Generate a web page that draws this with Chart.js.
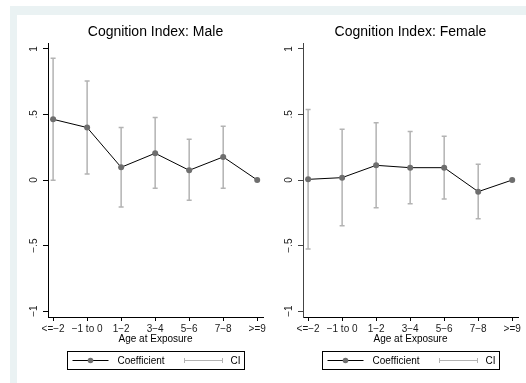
<!DOCTYPE html>
<html><head><meta charset="utf-8">
<script src="https://cdn.jsdelivr.net/npm/chart.js@4/dist/chart.umd.min.js"></script>
<style>
html,body{margin:0;padding:0;background:#fff;width:526px;height:383px;overflow:hidden;}
#band{position:absolute;left:10px;top:6px;width:516px;height:377px;background:#eaf2f3;}
#inner{position:absolute;left:17px;top:15px;width:509px;height:368px;background:#fff;}
#cL{position:absolute;left:0;top:0;width:270px;height:383px;}
#cR{position:absolute;left:265px;top:0;width:261px;height:383px;}
</style></head><body>
<div id="band"></div><div id="inner"></div>
<canvas id="cL" width="270" height="383"></canvas>
<canvas id="cR" width="261" height="383"></canvas>
<script>
const categories = ["<=\u22122", "\u22121 to 0", "1\u22122", "3\u22124", "5\u22126", "7\u22128", ">=9"];
const yTickValues = [-1, -0.5, 0, 0.5, 1];
const yTickLabels = ["\u22121", "\u2212.5", "0", ".5", "1"];

const maleCoef = [0.463, 0.400, 0.097, 0.204, 0.074, 0.176, 0];
const maleLow  = [-0.002, 0.046, -0.206, -0.062, -0.155, -0.062, null];
const maleHigh = [0.929, 0.756, 0.400, 0.476, 0.310, 0.410, null];

const femaleCoef = [0.005, 0.018, 0.112, 0.094, 0.094, -0.089, 0];
const femaleLow  = [-0.527, -0.349, -0.211, -0.181, -0.145, -0.295, null];
const femaleHigh = [0.537, 0.387, 0.437, 0.369, 0.333, 0.120, null];

const FONT = '"Liberation Sans", Arial, Helvetica, sans-serif';
const CI_COLOR = '#b3b3b3';
const MARK_COLOR = '#6e6e6e';

function makeChart(id, title, coef, low, high, yW, padR, yAxisColor) {
  const extras = {
    id: 'extras',
    beforeDatasetsDraw(chart) {
      const {ctx, scales: {x, y}} = chart;
      ctx.save();
      ctx.strokeStyle = CI_COLOR;
      ctx.lineWidth = 1.5;
      for (let i = 0; i < coef.length; i++) {
        if (low[i] == null || high[i] == null) continue;
        const px = x.getPixelForValue(i);
        const y1 = y.getPixelForValue(low[i]);
        const y2 = y.getPixelForValue(high[i]);
        ctx.beginPath();
        ctx.moveTo(px, y1); ctx.lineTo(px, y2);
        ctx.moveTo(px - 2.5, y1); ctx.lineTo(px + 2.5, y1);
        ctx.moveTo(px - 2.5, y2); ctx.lineTo(px + 2.5, y2);
        ctx.stroke();
      }
      ctx.restore();
    },
    afterDraw(chart) {
      const {ctx, chartArea: ca, scales: {y}} = chart;
      const cx = (ca.left + ca.right) / 2;
      ctx.save();
      ctx.fillStyle = '#000';
      // title
      ctx.font = '14px ' + FONT;
      ctx.textAlign = 'center';
      ctx.textBaseline = 'middle';
      ctx.fillText(title, cx, 32);
      // y tick labels rotated
      ctx.font = '10px ' + FONT;
      ctx.fillStyle = '#1a1a1a';
      yTickValues.forEach((v, i) => {
        const py = y.getPixelForValue(v);
        ctx.save();
        ctx.translate(ca.left - 13.5, py);
        ctx.rotate(-Math.PI / 2);
        ctx.textAlign = 'center';
        ctx.textBaseline = 'middle';
        ctx.fillText(yTickLabels[i], 0, 0);
        ctx.restore();
      });
      // x axis title
      ctx.fillStyle = '#000';
      ctx.font = '10px ' + FONT;
      ctx.fillText('Age at Exposure', cx, 339.5);
      // legend
      const bw = 177, bh = 18;
      const bx = Math.round(cx - bw / 2) + 0.5, by = 351.5;
      ctx.strokeStyle = '#000';
      ctx.lineWidth = 1;
      ctx.strokeRect(bx, by, bw, bh);
      const ly = by + bh / 2;
      ctx.beginPath();
      ctx.moveTo(bx + 5, ly); ctx.lineTo(bx + 41, ly);
      ctx.stroke();
      ctx.fillStyle = MARK_COLOR;
      ctx.beginPath();
      ctx.arc(bx + 23, ly, 2.8, 0, Math.PI * 2);
      ctx.fill();
      ctx.strokeStyle = CI_COLOR;
      ctx.beginPath();
      ctx.moveTo(bx + 117, ly); ctx.lineTo(bx + 155, ly);
      ctx.moveTo(bx + 117, ly - 2.5); ctx.lineTo(bx + 117, ly + 2.5);
      ctx.moveTo(bx + 155, ly - 2.5); ctx.lineTo(bx + 155, ly + 2.5);
      ctx.stroke();
      ctx.fillStyle = '#000';
      ctx.font = '10px ' + FONT;
      ctx.textAlign = 'left';
      ctx.fillText('Coefficient', bx + 50, ly + 0.5);
      ctx.fillText('CI', bx + 163, ly + 0.5);
      ctx.restore();
    }
  };
  return new Chart(document.getElementById(id), {
    type: 'line',
    data: {
      datasets: [{
        label: 'Coefficient',
        data: coef.map((v, i) => ({x: i, y: v})),
        borderColor: '#000',
        borderWidth: 1,
        pointBackgroundColor: MARK_COLOR,
        pointBorderColor: MARK_COLOR,
        pointRadius: 3,
        pointBorderWidth: 0,
        tension: 0,
        fill: false
      }]
    },
    options: {
      responsive: false,
      animation: false,
      events: [],
      layout: {padding: {left: 0, right: padR, top: 43, bottom: 0}},
      plugins: {legend: {display: false}, title: {display: false}, tooltip: {enabled: false}},
      scales: {
        x: {
          type: 'linear', min: -0.15, max: 6.17,
          afterBuildTicks: s => { s.ticks = categories.map((c, i) => ({value: i})); },
          afterFit: s => { s.height = 66; },
          ticks: {autoSkip: false, maxRotation: 0, minRotation: 0, padding: 2, color: '#1a1a1a',
                  font: {family: FONT, size: 10}, callback: v => categories[v]},
          grid: {drawOnChartArea: false, drawTicks: true, tickLength: 4, color: '#000', tickColor: '#000'},
          border: {display: true, color: '#000', width: 1}
        },
        y: {
          type: 'linear', min: -1.045, max: 1.045,
          afterBuildTicks: s => { s.ticks = yTickValues.map(v => ({value: v})); },
          afterFit: s => { s.width = yW; },
          ticks: {display: false},
          grid: {drawOnChartArea: false, drawTicks: true, tickLength: 5, color: yAxisColor, tickColor: yAxisColor},
          border: {display: true, color: yAxisColor, width: 1}
        }
      }
    },
    plugins: [extras]
  });
}

makeChart('cL', 'Cognition Index: Male', maleCoef, maleLow, maleHigh, 48, 7, '#000');
makeChart('cR', 'Cognition Index: Female', femaleCoef, femaleLow, femaleHigh, 38, 8, '#444');
</script>
</body></html>
